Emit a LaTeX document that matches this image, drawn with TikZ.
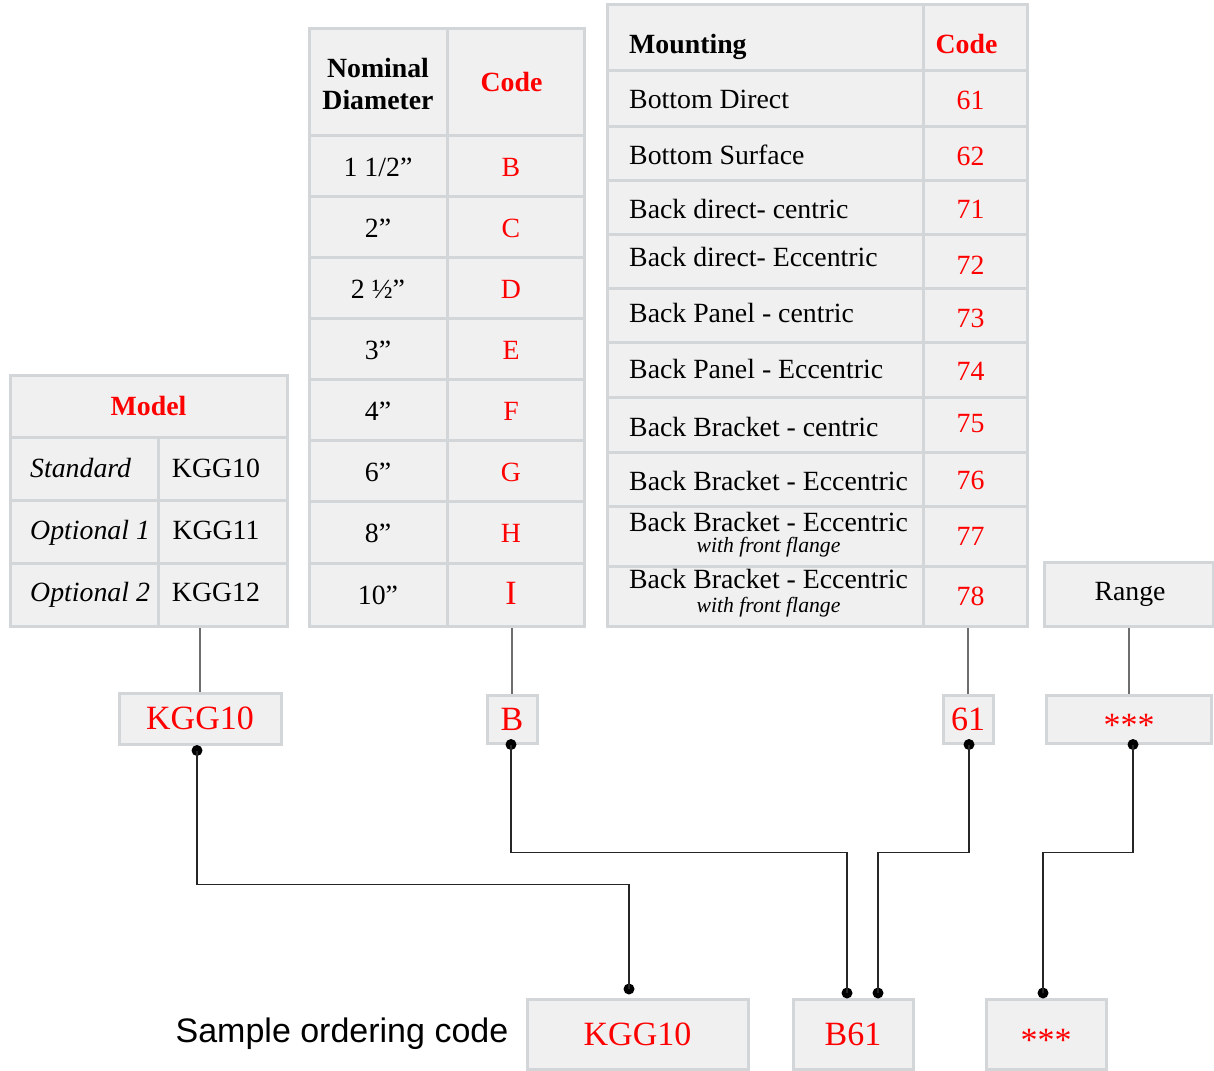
\documentclass[tikz,border=0pt]{standalone}
\usepackage{fontspec}
\setmainfont{Liberation Serif}
\newfontfamily\labelfont{Liberation Sans}
\usetikzlibrary{positioning}

\definecolor{cellfill}{HTML}{F0F0F0}
\definecolor{cellline}{HTML}{D3D6D9}
\definecolor{codered}{HTML}{FF0000}
\definecolor{feedgray}{HTML}{6E6E6E}

\tikzset{
  cell/.style={draw=cellline, fill=cellfill, line width=3pt, inner sep=0pt},
  txt/.style={font=\fontsize{27.8pt}{32pt}\selectfont, inner sep=0pt},
  small/.style={font=\fontsize{21.7pt}{24pt}\selectfont\itshape, inner sep=0pt},
  big/.style={font=\fontsize{34pt}{38pt}\selectfont},
  stars/.style={text height=34pt, text depth=0pt},
  sample/.style={font=\labelfont\fontsize{34pt}{38pt}\selectfont, inner sep=0pt},
  dot/.style={circle, fill=black, inner sep=0pt, minimum size=11pt},
  feed/.style={line width=1.8pt, feedgray},
  wire/.style={line width=1.4pt, black!85}
}

\begin{document}
\begin{tikzpicture}[x=1pt, y=-1pt]
\useasboundingbox (0,0) rectangle (1214,1070);

% model table
\node[cell, minimum width=277, minimum height=62] (mhead) at (148.5,406) {};
\node[txt, anchor=base, text=codered] (mtitle) at (148.5,415) {\bfseries Model};
\foreach \i/\y/\b/\name/\val in {1/468.5/477/Standard/KGG10, 2/531.5/539/Optional 1/KGG11, 3/594.5/601/Optional 2/KGG12} {
  \node[cell, minimum width=148, minimum height=63] (mname\i) at (84,\y) {};
  \node[cell, minimum width=129, minimum height=63] (mval\i) at (222.5,\y) {};
  \node[txt, anchor=base west] (mlab\i) at (30,\b) {\itshape \name};
  \node[txt, anchor=base] (mkgg\i) at (216,\b) {\val};
}

% nominal diameter table
\node[cell, minimum width=138, minimum height=106] (dhead) at (378,82) {};
\node[cell, minimum width=137, minimum height=106] (dchead) at (515.5,82) {};
\node[txt, anchor=base] (dnom) at (378,78) {\bfseries Nominal};
\node[txt, anchor=base] (ddia) at (378,110) {\bfseries Diameter};
\node[txt, anchor=base, text=codered] (dctitle) at (511.5,92) {\bfseries Code};
\foreach \i/\y/\h/\b/\size/\code in {1/165.5/61/176/{1 1/2”}/B, 2/226.5/61/237/2”/C, 3/287.5/61/298/2 ½”/D, 4/348.5/61/359/3”/E, 5/409.5/61/420/4”/F, 6/470.5/61/481/6”/G, 7/532/62/542/8”/H, 8/594.5/63/604/10”/{\fontsize{34pt}{38pt}\selectfont I}} {
  \node[cell, minimum width=138, minimum height=\h] (dsize\i) at (378,\y) {};
  \node[cell, minimum width=137, minimum height=\h] (dcode\i) at (515.5,\y) {};
  \node[txt, anchor=base] (dlab\i) at (378,\b) {\size};
  \node[txt, anchor=base, text=codered] (dval\i) at (511,\b) {\code};
}

% mounting table
\node[cell, minimum width=316, minimum height=66] (mohead) at (765,38) {};
\node[cell, minimum width=104, minimum height=66] (mochead) at (975,38) {};
\node[txt, anchor=base west] (motitle) at (629,54) {\bfseries Mounting};
\node[txt, anchor=base, text=codered] (moctitle) at (966.5,54) {\bfseries Code};
\foreach \i/\y/\h/\b/\cb/\txt/\code in {1/98.5/55/109/110/Bottom Direct/61, 2/153/54/164/165/Bottom Surface/62, 3/207/54/218/218/Back direct- centric/71, 4/261/54/266/274/Back direct- Eccentric/72, 5/315/54/322/327/Back Panel - centric/73, 6/369.5/55/378/380/Back Panel - Eccentric/74, 7/424.5/55/436/432/Back Bracket - centric/75, 8/479/54/490/489/Back Bracket - Eccentric/76} {
  \node[cell, minimum width=316, minimum height=\h] (mo\i) at (765,\y) {};
  \node[cell, minimum width=104, minimum height=\h] (moc\i) at (975,\y) {};
  \node[txt, anchor=base west] (molab\i) at (629,\b) {\txt};
  \node[txt, anchor=base, text=codered] (moval\i) at (970.5,\cb) {\code};
}
\foreach \i/\y/\b/\sb/\code in {9/536/531/552/77, 10/596/588/612/78} {
  \node[cell, minimum width=316, minimum height=60] (mo\i) at (765,\y) {};
  \node[cell, minimum width=104, minimum height=60] (moc\i) at (975,\y) {};
  \node[txt, anchor=base] (molab\i) at (768.5,\b) {Back Bracket - Eccentric};
  \node[small, anchor=base] (mosub\i) at (768.5,\sb) {with front flange};
  \node[txt, anchor=base, text=codered] (moval\i) at (970.5,\y+9) {\code};
}

% range
\node[cell, minimum width=169, minimum height=64] (range) at (1128.5,594) {};
\node[txt, anchor=base] (rtitle) at (1130,600) {Range};

% chosen codes
\node[cell, big, text=codered, minimum width=162, minimum height=51] (ksel) at (200,718.5) {KGG10};
\node[cell, big, text=codered, minimum width=50, minimum height=48] (bsel) at (512,719) {B};
\node[cell, big, text=codered, minimum width=50, minimum height=48] (msel) at (968,719) {61};
\node[cell, big, stars, text=codered, minimum width=165, minimum height=48] (rsel) at (1129,719) {***};

\draw[feed] (ksel.north) -- (ksel.north |- mval3.south);
\draw[feed] (bsel.north) -- (bsel.north |- dcode8.south);
\draw[feed] (msel.north) -- (msel.north |- moc10.south);
\draw[feed] (rsel.north) -- (rsel.north |- range.south);

% ordering code
\node[cell, big, text=codered, minimum width=221, minimum height=70] (okgg) at (637.5,1034) {KGG10};
\node[cell, big, text=codered, minimum width=120, minimum height=70] (ob61) at (853,1034) {B61};
\node[cell, big, stars, text=codered, minimum width=120, minimum height=70] (ostar) at (1046,1034) {***};
\node[sample, left=17pt of okgg] (sample) {Sample ordering code};

\node[dot] (dk1) at ([xshift=-3pt,yshift=-5pt]ksel.south) {};
\node[dot] (db1) at ([xshift=-1pt]bsel.south) {};
\node[dot] (dm1) at ([xshift=1pt]msel.south) {};
\node[dot] (dr1) at ([xshift=4pt]rsel.south) {};
\node[dot] (dk2) at ([xshift=-8.5pt,yshift=8.5pt]okgg.north) {};
\node[dot] (db2) at ([xshift=-6pt,yshift=4.5pt]ob61.north) {};
\node[dot] (dm2) at ([xshift=25pt,yshift=4.5pt]ob61.north) {};
\node[dot] (dr2) at ([xshift=-3pt,yshift=4.5pt]ostar.north) {};

\draw[wire] (dk1.center) -- ++(0,134) -| (dk2.center);
\draw[wire] (db1.center) -- ++(0,108) -| (db2.center);
\draw[wire] (dm1.center) -- ++(0,108) -| (dm2.center);
\draw[wire] (dr1.center) -- ++(0,108) -| (dr2.center);
\end{tikzpicture}
\end{document}
